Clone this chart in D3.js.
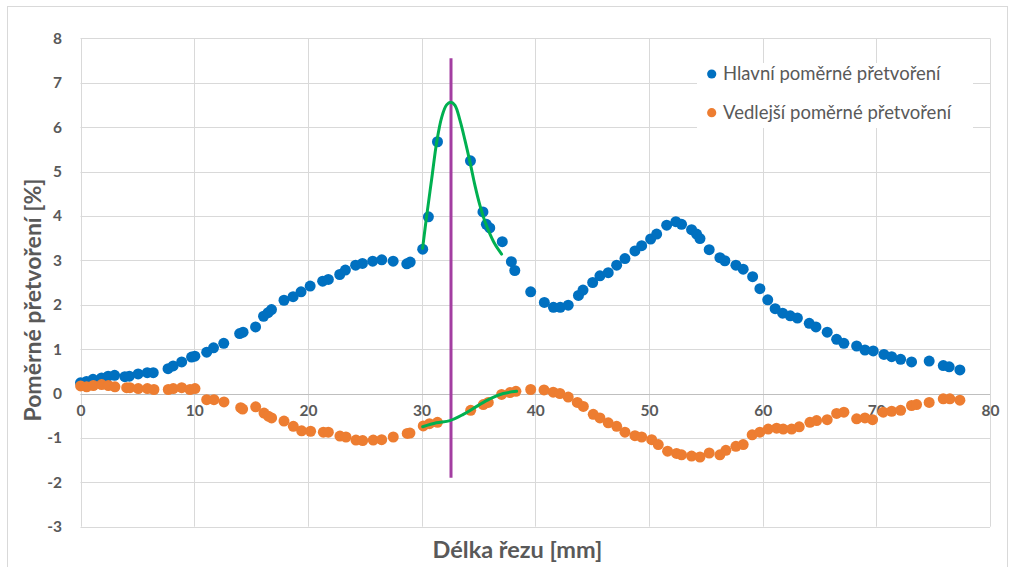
<!DOCTYPE html>
<html>
<head>
<meta charset="utf-8">
<script src="https://cdn.jsdelivr.net/npm/d3@7"></script>
<style>
  html, body { margin: 0; padding: 0; background: #fff; }
  svg { display: block; }
  text { font-family: Lato, "Open Sans", sans-serif; }
</style>
</head>
<body>
<svg id="chart" width="1010" height="567"></svg>
<script>
// ---------------- data ----------------
const xTicks = [0, 10, 20, 30, 40, 50, 60, 70, 80];
const yTicks = [-3, -2, -1, 0, 1, 2, 3, 4, 5, 6, 7, 8];
const seriesNames = ["Hlavní poměrné přetvoření", "Vedlejší poměrné přetvoření"];
const xTitle = "Délka řezu [mm]";
const yTitle = "Poměrné přetvoření [%]";

// main (principal) strain: [x mm, strain %]
const mainStrain = [
  [0,0.24],[0.53,0.27],[1.1,0.32],[1.85,0.35],[2.43,0.39],[3.0,0.41],[3.9,0.38],[4.3,0.39],
  [5.07,0.44],[5.87,0.47],[6.4,0.47],[7.7,0.56],[8.15,0.62],[8.9,0.71],[9.77,0.82],[10.06,0.84],
  [11.1,0.93],[11.7,1.03],[12.6,1.13],[14.0,1.35],[14.3,1.38],[15.4,1.50],[16.1,1.74],[16.5,1.82],
  [16.8,1.89],[17.9,2.10],[18.7,2.18],[19.4,2.29],[20.2,2.42],[21.3,2.53],[21.8,2.57],[22.8,2.68],
  [23.3,2.78],[24.2,2.89],[24.8,2.93],[25.7,2.98],[26.5,3.01],[27.5,2.98],[28.7,2.92],[29.0,2.96],
  [30.1,3.25],[30.6,3.98],[31.4,5.67],[34.3,5.24],[35.4,4.09],[35.7,3.81],[36.0,3.73],[37.1,3.42],
  [37.9,2.97],[38.2,2.77],[39.6,2.29],[40.8,2.05],[41.6,1.94],[42.2,1.94],[42.9,1.99],[43.8,2.21],
  [44.2,2.33],[45.05,2.50],[45.69,2.65],[46.42,2.72],[47.16,2.89],[47.89,3.04],[48.77,3.21],[49.36,3.33],
  [50.15,3.48],[50.68,3.59],[51.56,3.79],[52.37,3.87],[52.87,3.81],[53.75,3.69],[54.19,3.59],[54.49,3.49],
  [55.3,3.24],[56.24,3.06],[56.68,2.99],[57.65,2.89],[58.29,2.80],[59.12,2.63],[59.76,2.36],[60.45,2.11],
  [61.1,1.91],[61.76,1.81],[62.43,1.75],[63.06,1.70],[64.1,1.58],[64.69,1.50],[65.68,1.38],[66.51,1.22],
  [67.15,1.13],[68.27,1.07],[69.0,0.98],[69.73,0.96],[70.67,0.88],[71.35,0.83],[72.14,0.77],[73.1,0.71],
  [74.65,0.73],[75.89,0.63],[76.41,0.60],[77.35,0.53]
];

// minor (secondary) strain: [x mm, strain %]
const minorStrain = [
  [0.01,0.17],[0.54,0.15],[1.13,0.18],[1.86,0.20],[2.45,0.18],[3.03,0.15],[4.06,0.13],[4.35,0.13],
  [5.08,0.11],[5.88,0.11],[6.46,0.09],[7.72,0.09],[8.16,0.11],[8.9,0.13],[9.63,0.09],[10.07,0.11],
  [11.1,-0.14],[11.74,-0.14],[12.62,-0.19],[14.09,-0.32],[14.26,-0.35],[15.41,-0.30],[16.14,-0.44],[16.52,-0.51],
  [16.81,-0.55],[17.9,-0.62],[18.72,-0.74],[19.45,-0.84],[20.24,-0.85],[21.36,-0.87],[21.8,-0.87],[22.82,-0.96],
  [23.35,-0.98],[24.23,-1.05],[24.82,-1.06],[25.75,-1.05],[26.49,-1.04],[27.51,-0.98],[28.74,-0.90],[28.98,-0.89],
  [30.15,-0.73],[30.7,-0.68],[31.4,-0.65],[34.32,-0.38],[35.43,-0.25],[35.87,-0.20],[37.04,-0.02],[37.78,0.02],
  [38.3,0.05],[39.6,0.09],[40.77,0.08],[41.58,0.03],[42.17,0.00],[42.9,-0.08],[43.7,-0.20],[44.23,-0.29],
  [45.1,-0.47],[45.69,-0.55],[46.42,-0.66],[47.16,-0.74],[47.89,-0.87],[48.77,-0.95],[49.36,-0.98],[50.24,-1.04],
  [50.82,-1.15],[51.64,-1.30],[52.43,-1.35],[52.87,-1.38],[53.75,-1.41],[54.49,-1.43],[55.3,-1.34],[56.24,-1.38],
  [56.77,-1.28],[57.65,-1.19],[58.29,-1.15],[59.08,-0.93],[59.76,-0.87],[60.49,-0.80],[61.23,-0.78],[61.81,-0.80],
  [62.55,-0.80],[63.22,-0.75],[64.16,-0.65],[64.75,-0.61],[65.68,-0.59],[66.51,-0.45],[67.15,-0.42],[68.27,-0.57],
  [69.0,-0.55],[69.67,-0.59],[70.61,-0.42],[71.35,-0.40],[72.14,-0.38],[73.1,-0.27],[73.54,-0.25],[74.65,-0.20],
  [75.89,-0.12],[76.47,-0.12],[77.35,-0.15]
];

// fitted curve over main-strain peak
const mainFit = [
  [30.09,3.27],[30.45,4.00],[30.89,4.83],[31.33,5.66],[31.77,6.22],[32.20,6.50],[32.59,6.56],
  [32.94,6.49],[33.38,6.15],[33.82,5.70],[34.26,5.21],[34.70,4.68],[35.14,4.23],[35.58,3.87],
  [36.02,3.59],[36.46,3.36],[37.04,3.14]
];
// fitted curve over minor strain in the same region
const minorFit = [
  [30.1,-0.75],[31.3,-0.66],[32.5,-0.61],[33.67,-0.47],[34.85,-0.29],[36.0,-0.12],[37.19,0.0],[38.36,0.05]
];
// vertical marker at the peak position
const peakX = 32.59;
const peakLineRange = [-1.9, 7.55];

// ---------------- chart ----------------
const svg = d3.select("#chart");
const x = d3.scaleLinear().domain([0, 80]).range([80.5, 990]);
const y = d3.scaleLinear().domain([-3, 8]).range([526.7, 38.3]);
const textColor = "#595959";
const fmt = d => String(d);

// outer border
svg.append("rect").attr("x", 7.5).attr("y", 6.5).attr("width", 1000).attr("height", 600)
  .attr("fill", "none").attr("stroke", "#D9D9D9").attr("stroke-width", 1);

// gridlines
svg.append("g")
  .selectAll("line").data(yTicks).join("line")
  .attr("x1", x(0)).attr("x2", x(80))
  .attr("y1", d => Math.round(y(d)) + 0.5).attr("y2", d => Math.round(y(d)) + 0.5)
  .attr("stroke", "#D9D9D9").attr("stroke-width", 1);
svg.append("g")
  .selectAll("line").data(xTicks).join("line")
  .attr("y1", y(8)).attr("y2", y(-3))
  .attr("x1", d => Math.round(x(d)) + 0.5).attr("x2", d => Math.round(x(d)) + 0.5)
  .attr("stroke", "#D9D9D9").attr("stroke-width", 1);

// zero axis line
svg.append("line").attr("x1", x(0)).attr("x2", x(80))
  .attr("y1", Math.round(y(0)) + 0.5).attr("y2", Math.round(y(0)) + 0.5)
  .attr("stroke", "#BFBFBF").attr("stroke-width", 1);

// y axis labels
const yAxis = d3.axisLeft(y).tickValues(yTicks).tickFormat(fmt).tickSize(0).tickPadding(0);
const gy = svg.append("g").attr("transform", `translate(62,0)`).call(yAxis);
gy.select(".domain").remove();
gy.selectAll("text").attr("fill", textColor).attr("font-size", 15.5).attr("font-weight", "bold")
  .attr("font-family", "Lato, sans-serif");

// x axis labels (under the zero line)
const xAxis = d3.axisBottom(x).tickValues(xTicks).tickFormat(fmt).tickSize(0).tickPadding(0);
const gx = svg.append("g").attr("transform", `translate(0,${y(0) + 11})`).call(xAxis);
gx.select(".domain").remove();
gx.selectAll("text").attr("fill", textColor).attr("font-size", 15.5).attr("font-weight", "bold")
  .attr("font-family", "Lato, sans-serif");

// axis titles
svg.append("text").attr("x", 517.5).attr("y", 558).attr("text-anchor", "middle")
  .attr("font-size", 23.5).attr("font-weight", "bold").attr("fill", textColor).text(xTitle);
svg.append("text").attr("transform", "translate(41,300) rotate(-90)").attr("text-anchor", "middle")
  .attr("font-size", 23).attr("font-weight", "bold").attr("fill", textColor).text(yTitle);

// series points
const colors = ["#0070C0", "#ED7D31"];
svg.append("g").selectAll("circle").data(mainStrain).join("circle")
  .attr("cx", d => x(d[0])).attr("cy", d => y(d[1])).attr("r", 5.5).attr("fill", colors[0]);
svg.append("g").selectAll("circle").data(minorStrain).join("circle")
  .attr("cx", d => x(d[0])).attr("cy", d => y(d[1])).attr("r", 5.5).attr("fill", colors[1]);

// peak marker line
svg.append("line").attr("x1", x(peakX)).attr("x2", x(peakX))
  .attr("y1", y(peakLineRange[1])).attr("y2", y(peakLineRange[0]))
  .attr("stroke", "#A33EA1").attr("stroke-width", 3);

// fitted curves
const line = d3.line().x(d => x(d[0])).y(d => y(d[1])).curve(d3.curveCatmullRom.alpha(0.5));
svg.append("path").datum(mainFit).attr("d", line).attr("fill", "none")
  .attr("stroke", "#00B050").attr("stroke-width", 3).attr("stroke-linecap", "round");
svg.append("path").datum(minorFit).attr("d", line).attr("fill", "none")
  .attr("stroke", "#00B050").attr("stroke-width", 3).attr("stroke-linecap", "round");

// legend
const lg = svg.append("g");
lg.append("rect").attr("x", 697).attr("y", 63).attr("width", 276).attr("height", 65).attr("fill", "#fff");
seriesNames.forEach((name, i) => {
  const cy = 74 + i * 38.7;
  lg.append("circle").attr("cx", 711.7).attr("cy", cy).attr("r", 4.6).attr("fill", colors[i]);
  lg.append("text").attr("x", 723).attr("y", cy + 6).attr("font-size", 18.5).attr("fill", textColor).text(name);
});
</script>
</body>
</html>
